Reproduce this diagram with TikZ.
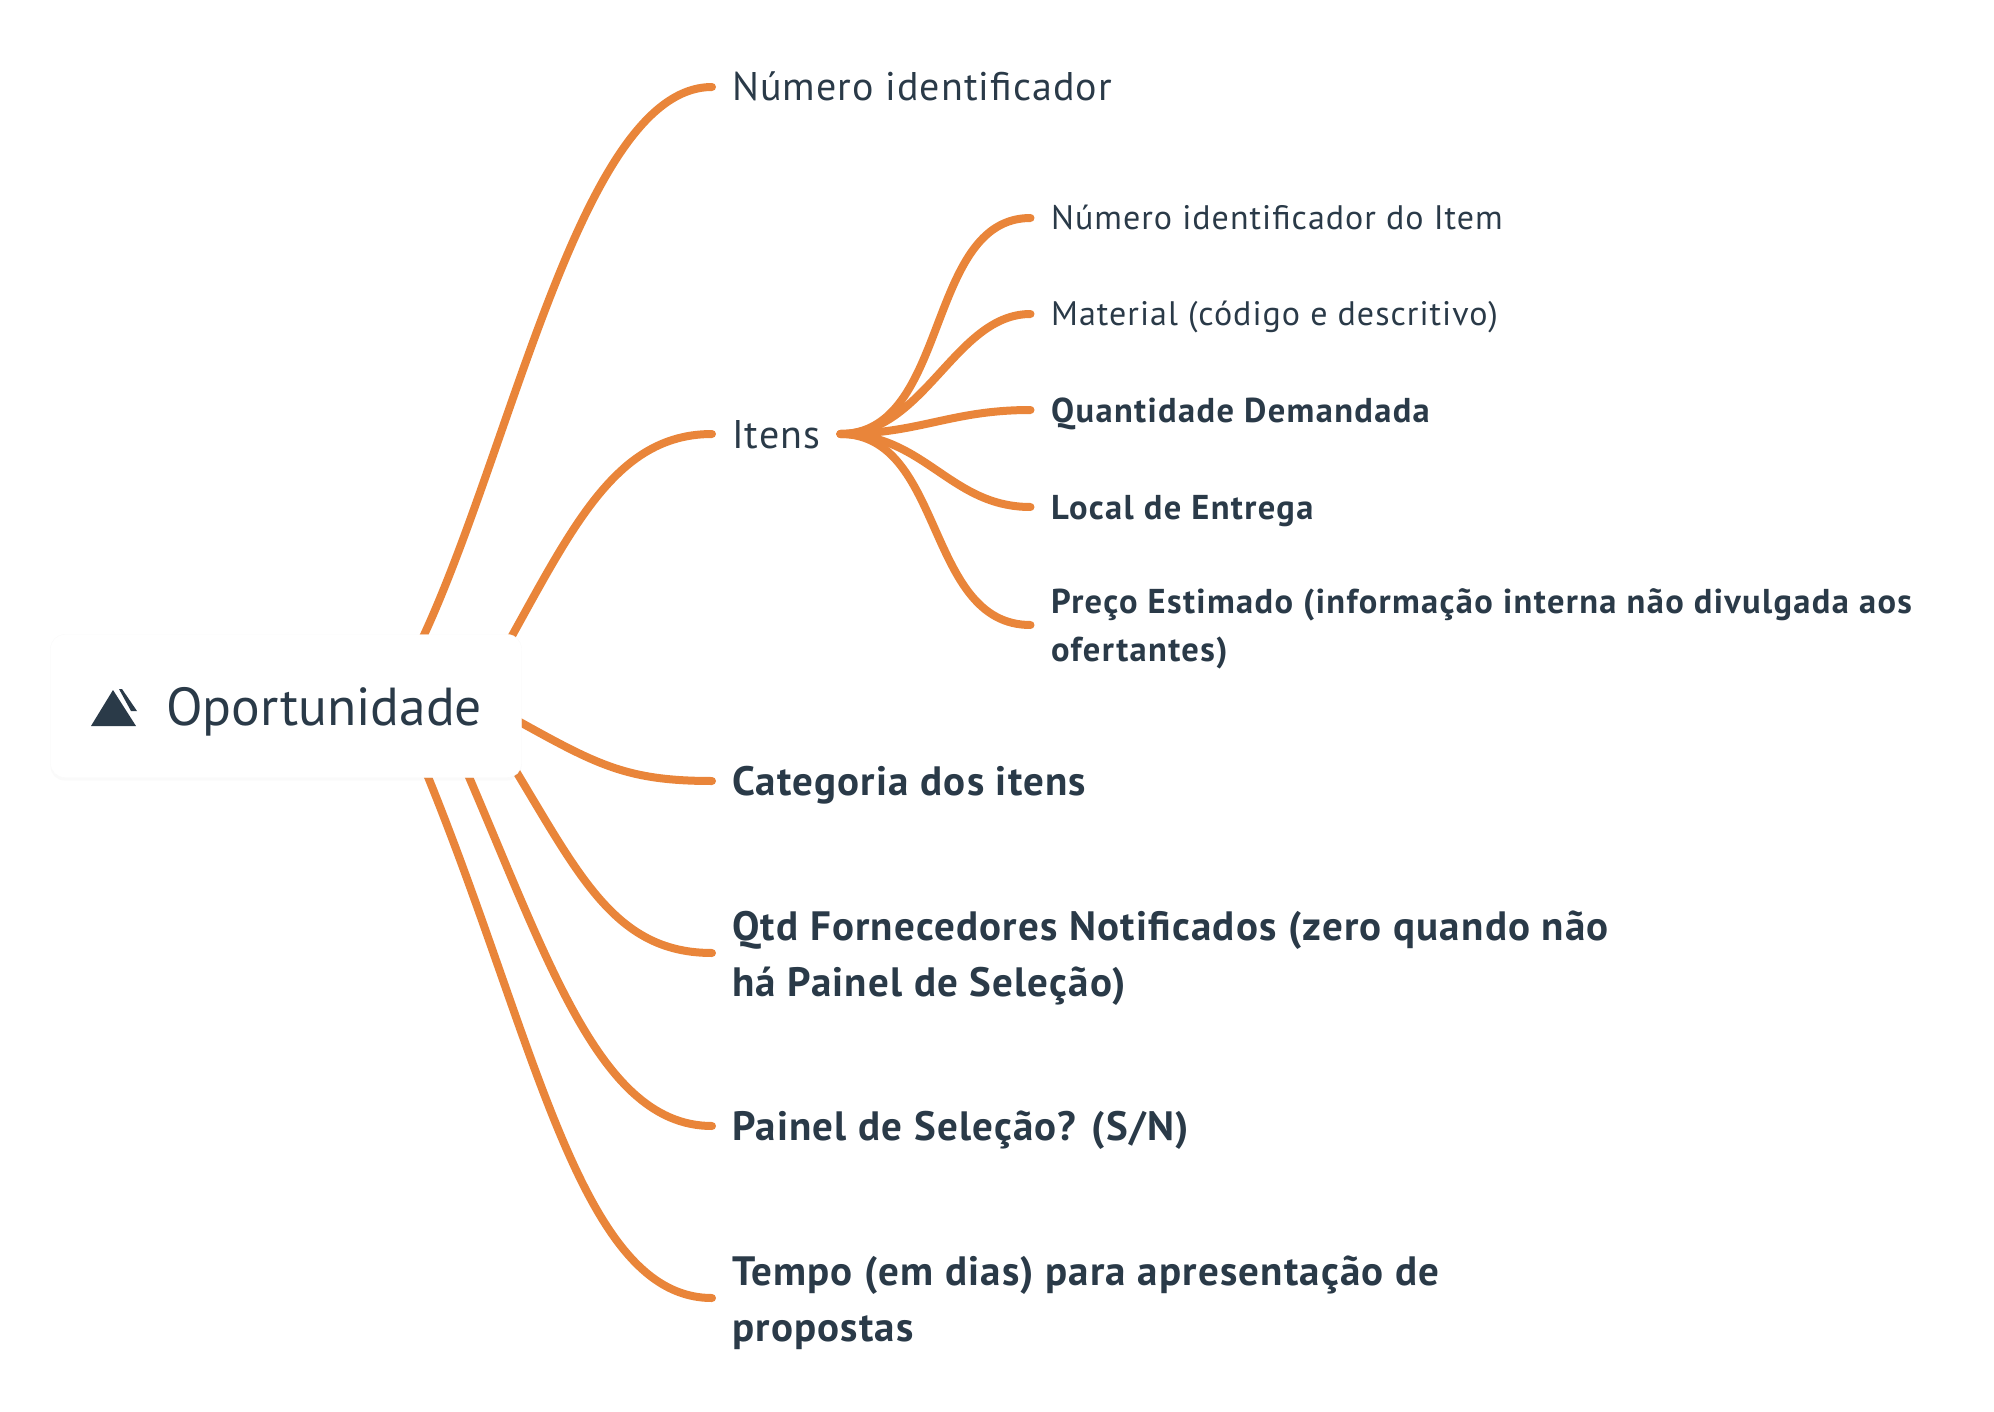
\documentclass[tikz,border=0pt]{standalone}
\usepackage{fontspec}
\setmainfont{PT Sans}
\usetikzlibrary{positioning, backgrounds, shadows}
\definecolor{ink}{RGB}{42,58,72}
\definecolor{branchorange}{RGB}{233,133,58}
\tikzset{
	rootbox/.style={rounded corners=14pt, fill=white, draw=black!2, minimum width=471pt, minimum height=143pt,
		drop shadow={shadow xshift=0pt, shadow yshift=-3pt, opacity=.04}},
	topic/.style={anchor=west, inner xsep=20pt, inner ysep=0pt, align=left, text=ink, text height=36pt, text depth=8pt,
		font=\fontsize{40}{56}\selectfont\addfontfeature{LetterSpace=2.6}},
	boldtopic/.style={topic, font=\fontsize{41}{56}\selectfont\bfseries\addfontfeature{LetterSpace=2.9}},
	widetopic/.style={boldtopic, text height=94pt},
	subtopic/.style={anchor=west, inner xsep=20.5pt, inner ysep=0pt, align=left, text=ink, text height=30pt, text depth=6pt,
		font=\fontsize{34}{48}\selectfont\addfontfeature{LetterSpace=3}},
	boldsubtopic/.style={subtopic, font=\fontsize{34.5}{48}\selectfont\bfseries\addfontfeature{LetterSpace=3.9}},
	widesubtopic/.style={boldsubtopic, text height=80pt, text depth=8pt},
	branch/.style={draw=branchorange, line width=8pt, line cap=round}
}
\begin{document}
\begin{tikzpicture}[x=1pt, y=-1pt]
	\useasboundingbox (0,0) rectangle (1994,1412);

	\node[rootbox] (root) at (286,706) {};
	\node[anchor=west, inner sep=0pt, text=ink, font=\fontsize{53.5}{60}\selectfont] (roottext) at (166,712) {Oportunidade};
	\fill[ink] (91,726) -- (136,726) -- (113,690) -- cycle;
	\fill[ink] (119,689) -- (122,689) -- (137,711) -- (131,711) -- cycle;

	\node[topic] (nro) at (712,87) {Número identificador};
	\node[topic] (itens) at (712,434) {Itens};
	\node[boldtopic] (cat) at (712,781) {Categoria dos itens};
	\node[widetopic] (qtd) at (712,953) {Qtd Fornecedores Notificados (zero quando não\\há Painel de Seleção)};
	\node[boldtopic] (painel) at (712,1126) {Painel de Seleção? (S/N)};
	\node[widetopic] (tempo) at (712,1298) {Tempo (em dias) para apresentação de\\propostas};

	\node[subtopic] (nroitem) at (1030.5,218) {Número identificador do Item};
	\node[subtopic] (mat) at (1030.5,314) {Material (código e descritivo)};
	\node[boldsubtopic] (quant) at (1030.5,410) {Quantidade Demandada};
	\node[boldsubtopic] (local) at (1030.5,507) {Local de Entrega};
	\node[widesubtopic] (preco) at (1030.5,625) {Preço Estimado (informação interna não divulgada aos\\ofertantes)};

	\coordinate (hubA) at (383,709);
	\coordinate (hubB) at (470,709);
	\coordinate (hubC) at (480,700);
	\coordinate (hubD) at (477,709);
	\coordinate (hubE) at (439,709);
	\coordinate (hubF) at (399,709);

	\begin{scope}[on background layer]
		\draw[branch] (hubA) .. controls (495,550) and (565,87) .. (nro.west);
		\draw[branch] (hubB) .. controls (560,560) and (600,434) .. (itens.west);
		\draw[branch] (hubC) .. controls (590,760) and (615,781) .. (cat.west);
		\draw[branch] (hubD) .. controls (570,850) and (600,953) .. (qtd.west);
		\draw[branch] (hubE) .. controls (540,930) and (590,1126) .. (painel.west);
		\draw[branch] (hubF) .. controls (530,1000) and (570,1298) .. (tempo.west);

		\draw[branch] (itens.east) .. controls (950,434) and (925,218) .. (nroitem.west);
		\draw[branch] (itens.east) .. controls (925,434) and (955,314) .. (mat.west);
		\draw[branch] (itens.east) .. controls (920,434) and (950,410) .. (quant.west);
		\draw[branch] (itens.east) .. controls (925,434) and (950,507) .. (local.west);
		\draw[branch] (itens.east) .. controls (945,434) and (925,625) .. (preco.west);
	\end{scope}
\end{tikzpicture}
\end{document}
